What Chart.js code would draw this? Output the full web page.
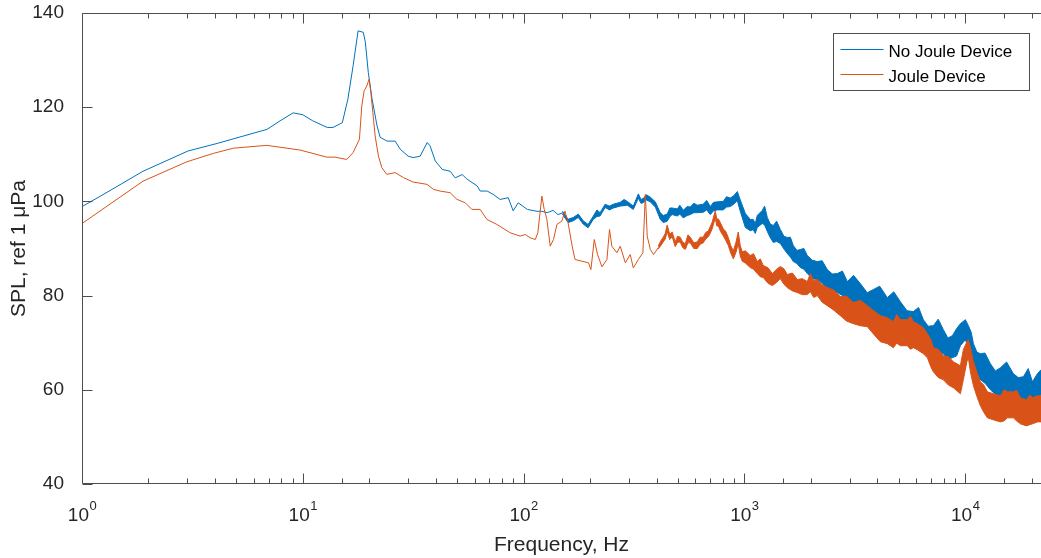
<!DOCTYPE html>
<html><head><meta charset="utf-8">
<script src="https://cdn.jsdelivr.net/npm/chart.js@4.4.1/dist/chart.umd.min.js"></script>
<style>html,body{margin:0;padding:0;background:#fff;overflow:hidden}canvas{display:block}</style>
</head><body>
<canvas id="c" width="1041" height="558"></canvas>
<script>
// ---- Data (frequency in Hz, SPL in dB) ----
const noJouleFreq = [1, 1.21, 1.89, 3.02, 4.09, 6.89, 7.89, 9.04, 10.0, 11.1, 12.9, 13.7, 15.1, 16.0, 16.9, 17.8, 18.8, 19.2, 19.8, 20.6, 21.7, 22.4, 24.1, 26.2, 27.6, 30.0, 31.6, 34.0, 36.6, 37.7, 39.8, 42.8, 46.5, 49.0, 52.7, 55.5, 61.6, 63.6, 68.4, 72.8, 78.3, 85.2, 89.7, 94.5, 104, 115, 121, 128, 136, 143, 151];
const noJouleSPL = [98.9, 101.1, 106.4, 110.7, 112.3, 115.3, 117.1, 118.8, 118.4, 117.1, 115.7, 115.7, 116.7, 121.7, 128.8, 136.2, 135.9, 133.8, 127.4, 121.7, 116.0, 113.6, 112.8, 112.8, 111.1, 109.6, 109.3, 109.6, 112.5, 111.8, 108.6, 106.8, 106.4, 105.0, 105.7, 104.7, 103.3, 102.2, 102.2, 101.5, 100.4, 100.8, 98.0, 99.7, 98.3, 97.9, 97.9, 97.6, 98.1, 97.2, 97.6];

const noJouleBandFreq = [150, 159, 168, 177, 186, 196, 207, 215, 222, 234, 245, 255, 274, 285, 295, 314, 331, 340, 348, 360, 375, 395, 416, 429, 447, 460, 471, 497, 510, 529, 550, 569, 590, 612, 651, 675, 701, 725, 754, 802, 830, 863, 895, 929, 958,
  1010, 1063, 1097, 1120, 1144, 1205, 1235, 1270, 1310, 1352, 1400, 1455, 1510, 1564, 1615, 1666, 1730, 1792, 1860, 1928, 2030, 2140, 2250, 2375, 2500, 2636, 2780, 2926, 3120, 3351, 3600, 3838, 4100, 4442, 4750, 5087, 5450, 5826, 6150, 6466, 6800, 7178, 7550, 7966, 8350, 8750, 9150, 9512, 10020, 10340, 10650, 10900, 11300, 11720, 12300, 13010, 13700, 14440, 15400, 16540, 17400, 18350, 19300, 20170, 21240, 22050];
const noJouleBandHi = [97.9, 96.2, 96.6, 97.3, 95.9, 95.1, 96.9, 98.2, 97.6, 99.4, 99.0, 99.4, 99.8, 100.4, 100.0, 99.0, 101.6, 100.4, 100.6, 101.4, 100.9, 99.9, 97.6, 97.0, 97.3, 98.6, 98.6, 98.4, 99.2, 98.1, 98.9, 98.8, 99.6, 99.2, 99.4, 100.2, 98.9, 99.8, 99.9, 100.0, 101.0, 100.7, 101.2, 102.1, 100.3,
  97.45, 96.17, 96.17, 95.3, 97.02, 98.09, 99.0, 96.60, 95.2, 94.89, 95.8, 94.04, 92.6, 92.34, 92.4, 90.64, 89.6, 89.79, 90.0, 88.51, 87.5, 87.23, 87.4, 85.53, 84.6, 84.68, 85.2, 82.98, 84.3, 82.55, 80.6, 81.28, 82.0, 79.57, 80.8, 78.72, 76.8, 76.60, 77.5, 74.89, 73.5, 73.62, 75.0, 72.77, 71.0, 71.49, 73.0, 74.04, 74.89, 73.62, 72.2, 69.79, 68.0, 67.66, 67.8, 65.53, 64.0, 64.68, 65.9, 63.40, 62.6, 62.77, 64.5, 61.70, 63.40, 64.26];
const noJouleBandLo = [97.3, 95.5, 95.9, 96.6, 95.2, 94.4, 96.2, 96.8, 96.9, 98.7, 98.2, 98.6, 99.0, 99.1, 99.2, 98.3, 100.7, 99.6, 99.7, 100.3, 99.9, 98.8, 96.2, 95.5, 95.8, 96.8, 97.2, 96.9, 97.3, 96.5, 97.0, 97.2, 97.6, 97.6, 97.7, 98.2, 97.2, 98.0, 98.2, 98.2, 98.8, 98.9, 99.4, 100.2, 97.9,
  94.47, 93.79, 94.00, 93.2, 94.47, 95.32, 95.0, 93.62, 92.3, 91.28, 91.5, 91.06, 89.9, 88.94, 88.2, 87.23, 86.8, 85.96, 85.6, 84.68, 83.6, 83.40, 82.6, 81.28, 80.4, 80.64, 80.0, 78.72, 78.6, 78.09, 76.0, 76.60, 75.8, 74.47, 74.0, 73.62, 72.6, 71.49, 70.8, 69.79, 69.0, 68.51, 68.2, 67.66, 66.5, 66.81, 67.2, 69.36, 70.64, 68.94, 67.0, 64.68, 63.3, 62.13, 61.4, 60.00, 59.0, 58.72, 58.4, 57.87, 57.6, 57.45, 57.3, 56.81, 58.30, 58.94];

const jouleFreq = [1, 1.89, 2.98, 3.94, 4.85, 6.87, 9.72, 12.85, 14.0, 15.8, 16.9, 18.05, 18.5, 18.96, 19.5, 19.97, 20.33, 20.76, 21.27, 22.0, 22.8, 24.0, 26.2, 28.6, 31.6, 36.5, 39.1, 41.9, 46.5, 49.9, 54.4, 58.3, 63.6, 68.2, 75.7, 87.0, 96.5, 101.7, 107, 113, 116, 121, 124, 127.5, 132, 136.6, 141.6, 149, 154, 159, 166, 171, 183.8, 196.8, 201.8, 209, 216.2, 226.4, 238.5, 245, 251, 264.7, 274, 289, 304, 314, 331, 347, 356, 363, 375, 388, 407];
const jouleSPL = [95.3, 104.3, 108.4, 110.2, 111.3, 111.9, 110.9, 109.4, 109.4, 108.9, 110.36, 113.19, 120.28, 123.47, 124.53, 125.96, 123.13, 118.87, 113.89, 109.64, 107.17, 105.74, 106.11, 105.04, 104.11, 103.62, 102.55, 102.19, 101.85, 100.43, 99.72, 98.30, 98.30, 96.17, 95.11, 93.34, 92.62, 92.98, 92.28, 91.91, 93.34, 101.13, 98.30, 96.17, 90.49, 91.91, 95.11, 95.81, 97.94, 95.47, 90.49, 87.66, 87.30, 86.96, 85.53, 91.91, 88.72, 86.11, 87.66, 94.04, 90.49, 89.09, 90.49, 86.96, 88.72, 85.89, 87.66, 89.09, 101.49, 92.62, 89.79, 88.72, 90.15];

const jouleBandFreq = [407, 418, 429, 438, 447, 459, 471, 486, 498, 512, 525, 540, 555, 569, 590, 612, 630, 651, 668, 686, 700, 715, 738, 750, 762, 780, 802, 824, 846, 868, 891, 915, 938, 958, 978, 1010,
  1063, 1100, 1144, 1180, 1218, 1280, 1338, 1400, 1455, 1510, 1564, 1650, 1737, 1830, 1928, 1989, 2060, 2140, 2250, 2375, 2540, 2720, 2900, 3115, 3350, 3605, 3850, 4129, 4442, 4728, 4900, 5087, 5472, 5650, 5826, 6073, 6466, 6743, 7000, 7178, 7550, 7966, 8400, 8843, 9512, 9810, 10180, 10340, 10560, 10900, 11360, 11720, 12150, 12610, 13420, 14440, 15000, 15540, 16540, 17100, 17790, 18940, 19600, 20170, 21240, 22050];
const jouleBandHi = [90.5, 91.6, 92.4, 93.2, 95.0, 93.0, 93.5, 91.4, 92.6, 92.4, 91.4, 91.0, 92.9, 92.4, 91.2, 91.4, 92.4, 92.4, 93.4, 93.7, 94.6, 95.6, 98.0, 96.2, 96.3, 95.4, 94.2, 93.6, 92.3, 90.6, 89.5, 91.2, 93.5, 90.6, 89.3, 89.5,
  88.51, 88.9, 87.23, 87.8, 86.38, 85.9, 84.68, 85.6, 86.17, 85.7, 84.47, 84.8, 83.40, 83.6, 82.98, 84.68, 83.2, 83.40, 82.3, 81.70, 81.2, 79.79, 79.9, 78.51, 79.0, 77.87, 76.8, 75.74, 75.32, 74.47, 76.0, 74.89, 74.89, 75.6, 74.47, 74.04, 73.19, 71.91, 70.6, 68.94, 68.6, 67.23, 67.0, 65.96, 65.11, 68.51, 70.21, 70.64, 68.94, 65.96, 63.40, 61.70, 61.0, 59.57, 59.15, 58.72, 60.0, 59.57, 59.57, 59.9, 58.30, 57.87, 58.9, 58.30, 58.72, 58.72];
const jouleBandLo = [89.9, 90.6, 91.4, 92.0, 93.6, 91.9, 92.5, 90.4, 91.3, 91.4, 90.2, 89.8, 91.2, 91.2, 90.0, 90.0, 90.9, 91.2, 92.0, 92.5, 93.2, 94.2, 96.5, 94.8, 94.8, 93.6, 92.7, 91.7, 90.6, 89.0, 87.8, 89.1, 91.0, 88.4, 87.3, 86.9,
  85.96, 85.6, 84.68, 84.0, 83.83, 82.6, 82.13, 82.8, 83.62, 82.4, 81.70, 81.0, 80.64, 80.2, 80.21, 80.85, 79.6, 80.00, 78.6, 77.87, 76.9, 75.74, 74.6, 74.04, 73.6, 73.40, 71.8, 70.21, 69.79, 68.94, 69.9, 69.36, 69.36, 68.6, 68.94, 68.51, 67.66, 66.81, 64.8, 63.83, 62.6, 62.13, 61.0, 60.43, 59.15, 62.13, 65.96, 66.81, 63.83, 60.85, 58.30, 56.60, 55.2, 54.04, 53.62, 53.19, 53.4, 54.04, 54.04, 53.4, 52.77, 52.34, 52.6, 52.77, 53.19, 53.19];

const xDecadeExponents = [0, 1, 2, 3, 4];
const yTickValues = [40, 60, 80, 100, 120, 140];
const seriesLabels = ['No Joule Device', 'Joule Device'];

// ---- Styling ----
const BLUE = '#0072BD', ORANGE = '#D95319';
const FONT = '"Liberation Sans", Arial, Helvetica, sans-serif';
const TXT = '#262626', AXC = '#4d4d4d';

function pts(f, v) { return f.map((x, i) => ({ x: x, y: v[i] })); }
function lineDs(label, data, color, order, extra) {
  return Object.assign({ label: label, data: data, borderColor: color, backgroundColor: color, borderWidth: 1,
    pointRadius: 0, pointHoverRadius: 0, tension: 0, fill: false, order: order }, extra || {});
}

const axesPlugin = {
  id: 'matlabAxes',
  afterDraw(chart) {
    const ctx = chart.ctx, a = chart.chartArea, xs = chart.scales.x, ys = chart.scales.y;
    const L = Math.round(a.left) + 0.5, B = Math.round(a.bottom) - 0.5, T = Math.round(a.top) + 0.5, R = a.right + 1;
    ctx.save();
    ctx.strokeStyle = AXC; ctx.lineWidth = 1;
    ctx.beginPath();
    ctx.moveTo(L, T); ctx.lineTo(R, T);
    ctx.moveTo(L, T); ctx.lineTo(L, B); ctx.lineTo(R, B);
    xs.ticks.forEach(t => {
      const v = t.value;
      if (v <= xs.min || v >= xs.max) return;
      const e = Math.log10(v);
      const major = Math.abs(e - Math.round(e)) < 1e-9;
      const len = major ? 10 : 5;
      const px = Math.round(xs.getPixelForValue(v)) + 0.5;
      ctx.moveTo(px, B); ctx.lineTo(px, B - len);
      ctx.moveTo(px, T); ctx.lineTo(px, T + len);
    });
    yTickValues.forEach(v => {
      const py = Math.round(ys.getPixelForValue(v)) + 0.5;
      ctx.moveTo(L, py); ctx.lineTo(L + 10, py);
    });
    ctx.stroke();

    // x tick labels 10^n
    ctx.fillStyle = TXT; ctx.textAlign = 'left'; ctx.textBaseline = 'alphabetic';
    xDecadeExponents.forEach(e => {
      const px = xs.getPixelForValue(Math.pow(10, e));
      ctx.font = '19px ' + FONT; const w1 = ctx.measureText('10').width;
      ctx.font = '13px ' + FONT; const w2 = ctx.measureText(String(e)).width;
      const x0 = px - (w1 + w2) / 2;
      ctx.font = '19px ' + FONT; ctx.fillText('10', x0, a.bottom + 36.5);
      ctx.font = '13px ' + FONT; ctx.fillText(String(e), x0 + w1 + 0.5, a.bottom + 26);
    });

    // legend box
    const items = chart.data.datasets.filter(d => seriesLabels.includes(d.label))
      .sort((p, q) => seriesLabels.indexOf(p.label) - seriesLabels.indexOf(q.label));
    const bx = Math.round(a.right) - 208 + 0.5, by = Math.round(a.top) + 20 + 0.5, bw = 196, bh = 57;
    ctx.fillStyle = '#fff'; ctx.fillRect(bx, by, bw, bh);
    ctx.strokeStyle = AXC; ctx.strokeRect(bx, by, bw, bh);
    ctx.font = '17px ' + FONT; ctx.textBaseline = 'alphabetic';
    items.forEach((d, i) => {
      const ly = by + 16 + i * 25;
      ctx.strokeStyle = d.borderColor; ctx.lineWidth = 1;
      ctx.beginPath(); ctx.moveTo(bx + 7, ly); ctx.lineTo(bx + 50, ly); ctx.stroke();
      ctx.fillStyle = '#000'; ctx.fillText(d.label, bx + 55, ly + 7);
    });
    ctx.restore();
  }
};

new Chart(document.getElementById('c'), {
  type: 'line',
  data: {
    datasets: [
      lineDs('Joule Device', pts(jouleFreq, jouleSPL), ORANGE, 0),
      lineDs('Joule Device (upper)', pts(jouleBandFreq, jouleBandHi), ORANGE, 0, { fill: 2 }),
      lineDs('Joule Device (lower)', pts(jouleBandFreq, jouleBandLo), ORANGE, 0),
      lineDs('No Joule Device', pts(noJouleFreq, noJouleSPL), BLUE, 1),
      lineDs('No Joule Device (upper)', pts(noJouleBandFreq, noJouleBandHi), BLUE, 1, { fill: 5 }),
      lineDs('No Joule Device (lower)', pts(noJouleBandFreq, noJouleBandLo), BLUE, 1)
    ]
  },
  options: {
    responsive: false, animation: false, devicePixelRatio: 1,
    layout: { padding: { top: 13, left: 0, right: 0, bottom: 0 } },
    plugins: { legend: { display: false }, tooltip: { enabled: false } },
    scales: {
      x: {
        type: 'logarithmic', min: 1, max: 22050, position: 'bottom',
        grid: { display: false }, border: { display: false },
        ticks: { display: false },
        title: { display: true, text: 'Frequency, Hz', color: TXT, font: { family: FONT, size: 21 }, padding: { top: 0, bottom: 0 } },
        afterFit(s) { s.height = 74; s.paddingLeft = 0; s.paddingRight = 0; }
      },
      y: {
        min: 40, max: 140,
        grid: { display: false }, border: { display: false },
        ticks: { stepSize: 20, color: TXT, font: { family: FONT, size: 19 }, padding: 10 },
        title: { display: true, text: 'SPL, ref 1 \u03BCPa', color: TXT, font: { family: FONT, size: 21 }, padding: { top: 7, bottom: 0 } },
        afterFit(s) { s.width = 82; s.paddingTop = 0; s.paddingBottom = 0; }
      }
    }
  },
  plugins: [axesPlugin]
});
</script>
</body></html>
